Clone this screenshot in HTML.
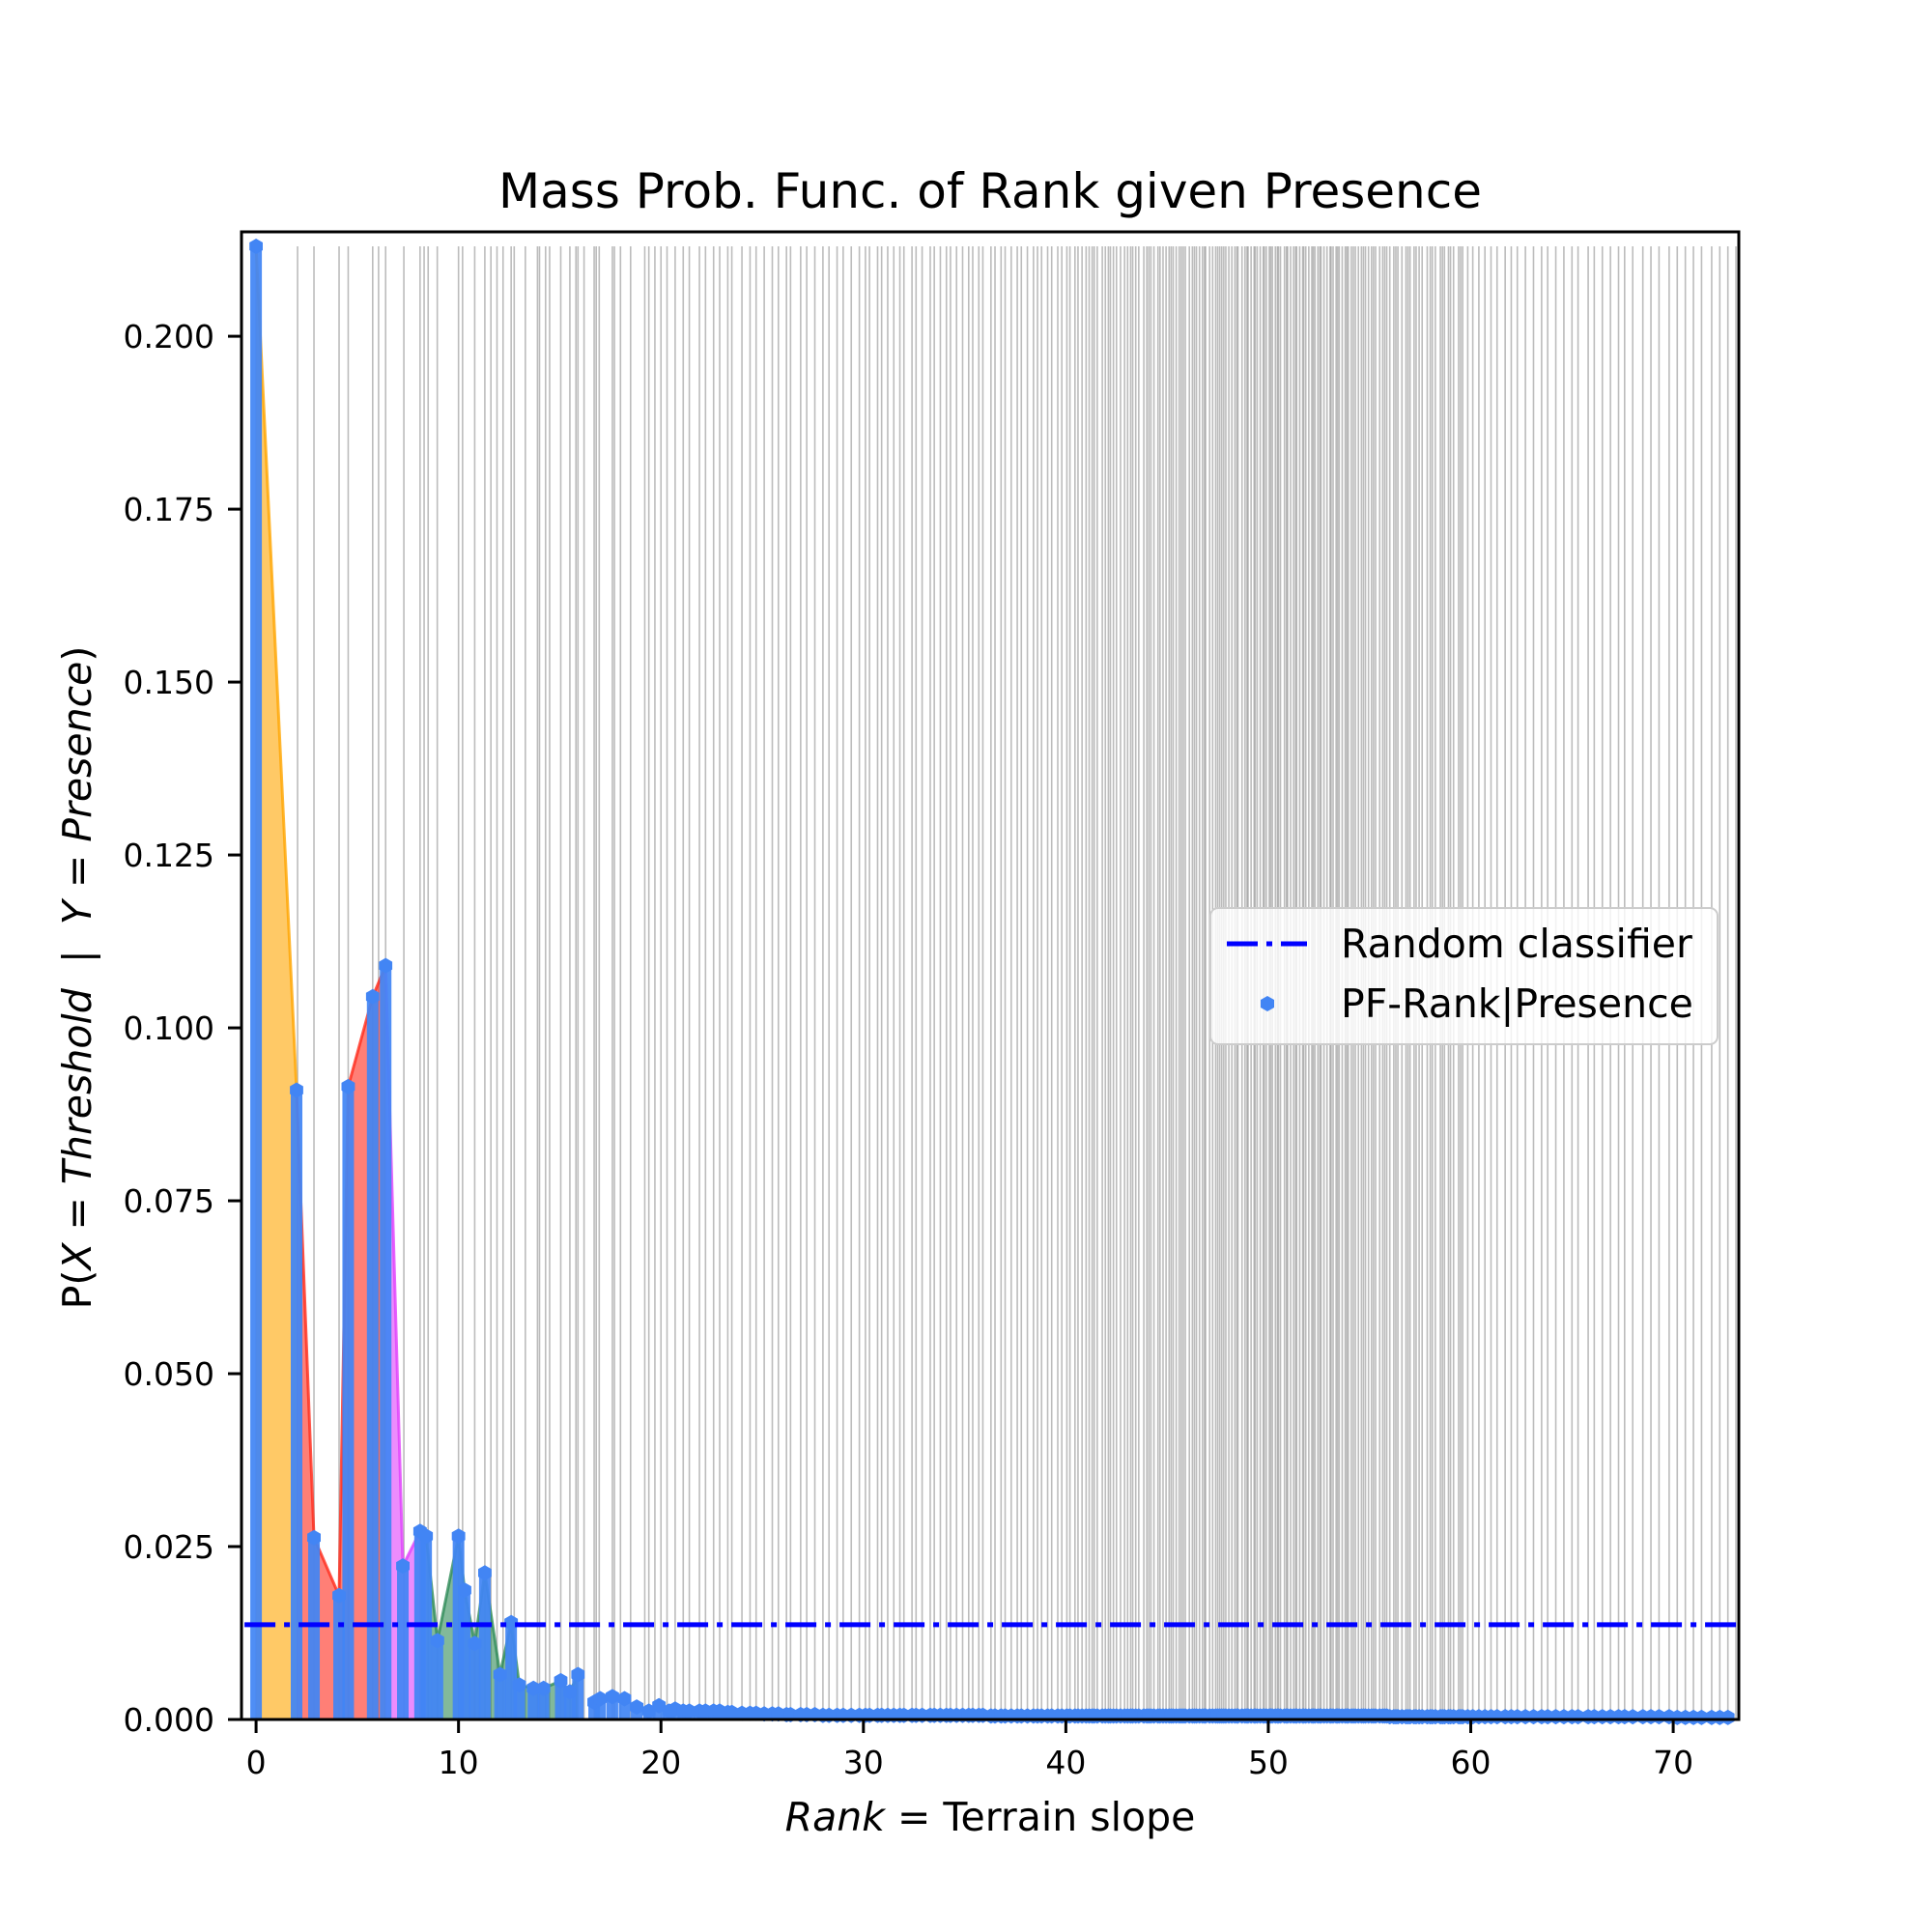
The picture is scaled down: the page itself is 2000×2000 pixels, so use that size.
<!DOCTYPE html>
<html><head><meta charset="utf-8"><style>
html,body{margin:0;padding:0;background:#fff;}
svg{display:block;font-family:"DejaVu Sans","Liberation Sans",sans-serif;}
</style></head><body>
<svg id="chart" width="2000" height="2000" viewBox="0 0 2000 2000" xmlns="http://www.w3.org/2000/svg">
<rect width="2000" height="2000" fill="#fff"/>
<text x="1025" y="215" font-size="50" text-anchor="middle">Mass Prob. Func. of Rank given Presence</text>
<g id="grid"></g>
<g id="fills"></g>
<g id="stems"></g>
<g id="markers"></g>
<line id="randline" stroke="#0000ff" stroke-width="5" stroke-dasharray="32 9 6 9"/>
<rect x="250" y="240" width="1550" height="1540" fill="none" stroke="#000" stroke-width="3"/>
<g id="xticks"></g>
<g id="yticks"></g>
<text x="1025" y="1895" font-size="41" text-anchor="middle"><tspan font-style="italic">Rank</tspan> = Terrain slope</text>
<text transform="translate(94,1012) rotate(-90)" font-size="41" text-anchor="middle" xml:space="preserve">P(<tspan font-style="italic">X</tspan> = <tspan font-style="italic">Threshold</tspan>  |  <tspan font-style="italic">Y</tspan> = <tspan font-style="italic">Presence</tspan>)</text>
<g transform="translate(-20,-10)">
<rect x="1273" y="950" width="525" height="141" rx="8" fill="#fff" fill-opacity="0.8" stroke="#ccc" stroke-width="2"/>
<line x1="1290" y1="987" x2="1373" y2="987" stroke="#0000ff" stroke-width="5" stroke-dasharray="32 9 6 9"/>
<text x="1408" y="1001" font-size="41">Random classifier</text>
<polygon points="1332,1041 1339,1045 1339,1053 1332,1057 1325,1053 1325,1045" fill="#4285f4"/>
<text x="1408" y="1063" font-size="41">PF-Rank|Presence</text>
</g>
</svg>
<script>
// ---- data ----
const mainX = [0, 2.0, 2.86, 4.1, 4.55, 5.76, 6.4, 7.25, 8.1, 8.4, 8.96, 10.0, 10.3, 10.8, 11.3, 12.05, 12.6, 13.0, 13.7, 14.2, 15.05, 15.5, 15.9, 16.7, 17.0, 17.6, 18.2, 18.8, 19.4, 19.9, 20.4];
const mainY = [0.213, 0.091, 0.0263, 0.0179, 0.0915, 0.1045, 0.109, 0.0222, 0.0272, 0.0265, 0.0114, 0.0265, 0.0187, 0.011, 0.0212, 0.0065, 0.014, 0.005, 0.0045, 0.0045, 0.0056, 0.004, 0.0065, 0.0025, 0.003, 0.0033, 0.003, 0.0018, 0.0012, 0.002, 0.0012];
const thresholds = [0,2.05,2.86,4.1,4.55,5.76,6.05,6.4,7.3,8.1,8.3,8.5,8.95,10.0,10.2,10.8,11.3,11.6,11.9,12.2,12.6,12.75,13.3,13.9,14.0,14.3,14.5,15.05,15.5,15.8,15.9,16.2,16.7,16.8,16.95,17.6,17.7,18.0,18.5,19.2,19.4,19.7,
20.0,20.3,20.7,21.1,21.4,21.9,22.2,22.6,22.9,23.3,23.5,24.0,24.4,24.7,25.1,25.5,25.8,26.2,26.4,26.9,27.2,27.6,28.0,28.3,28.7,29.0,29.4,29.8,
30.1,30.3,30.7,30.9,31.2,31.5,31.8,32.0,32.4,32.6,32.9,33.3,33.5,33.8,34.1,34.3,34.6,34.9,35.2,35.4,35.7,35.9,36.3,36.5,36.8,37.0,37.3,37.6,37.8,38.1,38.4,38.6,38.8,39.1,39.3,39.6,39.8,
40.05,40.2,40.45,40.6,40.8,41.0,41.15,41.4,41.55,41.8,41.95,42.1,42.35,42.5,42.7,42.9,43.05,43.3,43.45,43.6,43.85,44.0,44.2,44.35,44.55,44.8,44.95,45.1,45.3,45.45,45.6,45.8,45.9,46.1,46.25,46.45,46.6,46.75,46.9,47.1,47.25,47.4,47.6,47.7,47.9,48.05,48.2,48.35,48.5,48.7,48.85,49.0,49.15,49.3,49.45,49.6,49.75,49.9,
50.05,50.2,50.35,50.5,50.6,50.8,50.95,51.1,51.25,51.4,51.55,51.7,51.85,52.0,52.15,52.3,52.45,52.6,52.75,52.9,53.05,53.2,53.35,53.5,53.65,53.8,53.95,54.1,54.3,54.45,54.6,54.8,54.95,55.1,55.3,55.5,55.65,55.85,56.0,56.2,56.4,56.6,56.8,57.0,57.2,57.45,57.6,57.85,58.0,58.25,58.5,58.7,58.9,59.15,59.4,59.6,59.85,
60.1,60.4,60.7,61.0,61.3,61.7,62.0,62.3,62.7,63.1,63.5,63.8,64.2,64.6,65.0,65.3,65.8,66.1,66.5,66.9,67.3,67.6,68.0,68.5,68.9,69.3,69.8,70.2,70.6,71.0,71.4,71.9,72.3,72.7,73.1,
41.3,42.2,43.2,44.1,44.65,45.2,45.7,46.35,46.85,47.5,47.8,48.45,48.95,49.35,49.8,50.12,50.45,50.9,51.35,51.75,52.22,52.55,53.1,53.42,53.88,54.2,54.7,55.2,55.75,56.3,56.9,57.3,58.1,58.6,59.0,59.5];
// tail probability level per integer rank 20..73
const tailLevel = [0.0015,0.0012,0.0012,0.001,0.0009,0.0008,0.0007,0.0007,0.0006,0.0006,0.0006,0.0006,0.0006,0.0006,0.0006,0.0006,0.0005,0.0005,0.0005,0.0005,0.0005,0.0005,0.0005,0.0005,0.0005,0.0005,0.0005,0.0005,0.0005,0.0005,0.0005,0.0005,0.0005,0.0005,0.0005,0.0005,0.0004,0.0004,0.0004,0.0004,0.0004,0.0004,0.0004,0.0004,0.0004,0.0004,0.0004,0.0004,0.0004,0.0004,0.0003,0.0003,0.0003,0.0003];
const randomLevel = [1/73];
const segColors = ["#ffa500","#ff2a1a","#e040fb","#2e8b57"];
const segBreaks = [0, 2.0, 6.4, 8.4, 15.9];
const xTicks = [0,10,20,30,40,50,60,70];
const yTicks = [0,0.025,0.05,0.075,0.1,0.125,0.15,0.175,0.2];
const yTickLabels = ["0.000","0.025","0.050","0.075","0.100","0.125","0.150","0.175","0.200"];

// ---- axes ----
const X0=250,X1=1800,Y0=240,Y1=1780, xmin=-0.72, xmax=73.24, ymin=0, ymax=0.2151;
const sx=v=>X0+(v-xmin)/(xmax-xmin)*(X1-X0);
const sy=v=>Y1-(v-ymin)/(ymax-ymin)*(Y1-Y0);
const NS="http://www.w3.org/2000/svg";
function mk(tag,attrs,parent){const e=document.createElementNS(NS,tag);for(const k in attrs)e.setAttribute(k,attrs[k]);parent.appendChild(e);return e;}
const maxY=Math.max(...mainY);

// threshold lines
const grid=document.getElementById('grid');
thresholds.forEach(t=>{if(t>xmax)return;
 const l=mk('line',{x1:sx(t),x2:sx(t),y1:sy(maxY),y2:Y1,stroke:'#909090','stroke-opacity':0.6,'stroke-width':1.6},grid);
 
 
});

// combined points
const px=[...mainX], py=[...mainY];
thresholds.forEach(t=>{if(t>20.5&&t<=73){px.push(t);py.push(tailLevel[Math.min(tailLevel.length-1,Math.floor(t)-20)]);}});

// fills
const fills=document.getElementById('fills');
for(let s=0;s<segColors.length;s++){
 const a=segBreaks[s],b=segBreaks[s+1];
 const idx=mainX.map((x,i)=>i).filter(i=>mainX[i]>=a-1e-9&&mainX[i]<=b+1e-9);
 let pts=idx.map(i=>sx(mainX[i])+','+sy(mainY[i]));
 const poly=mk('polygon',{points:sx(mainX[idx[0]])+','+Y1+' '+pts.join(' ')+' '+sx(mainX[idx[idx.length-1]])+','+Y1,fill:segColors[s],'fill-opacity':0.6},fills);
 
 
 const pl=mk('polyline',{points:pts.join(' '),fill:'none',stroke:segColors[s],'stroke-width':3,'stroke-opacity':0.8},fills);
 
 
}

// stems and markers
const stems=document.getElementById('stems'), markers=document.getElementById('markers');
px.forEach((x,i)=>{
 const st=mk('line',{x1:sx(x),x2:sx(x),y1:sy(py[i]),y2:Y1,stroke:'#4285f4','stroke-opacity':0.93,'stroke-width':12},stems);
 
 
 const cx=sx(x),cy=sy(py[i]),r=8;
 let p=[];for(let k=0;k<6;k++){const a=Math.PI/3*k-Math.PI/2;p.push((cx+r*Math.cos(a)).toFixed(1)+','+(cy+r*Math.sin(a)).toFixed(1));}
 const m=mk('polygon',{points:p.join(' '),fill:'#4285f4'},markers);
 
 
});

// random line
const rl=document.getElementById('randline');
rl.setAttribute('x1',sx(0)-12);rl.setAttribute('x2',X1);
rl.setAttribute('y1',sy(randomLevel[0]));rl.setAttribute('y2',sy(randomLevel[0]));

// ticks
const xt=document.getElementById('xticks');
xTicks.forEach(t=>{
 const l=mk('line',{x1:sx(t),x2:sx(t),y1:Y1,y2:Y1+14,stroke:'#000','stroke-width':3},xt);
 
 
 const tx=mk('text',{x:sx(t),y:Y1+56,'font-size':33,'text-anchor':'middle'},xt);
 tx.textContent=String(t);
 
 
});
const yt=document.getElementById('yticks');
yTicks.forEach((t,i)=>{
 const l=mk('line',{x1:X0-14,x2:X0,y1:sy(t),y2:sy(t),stroke:'#000','stroke-width':3},yt);
 
 
 const tx=mk('text',{x:X0-28,y:sy(t)+12,'font-size':33,'text-anchor':'end'},yt);
 tx.textContent=yTickLabels[i];
 
 
});
</script>
</body></html>
